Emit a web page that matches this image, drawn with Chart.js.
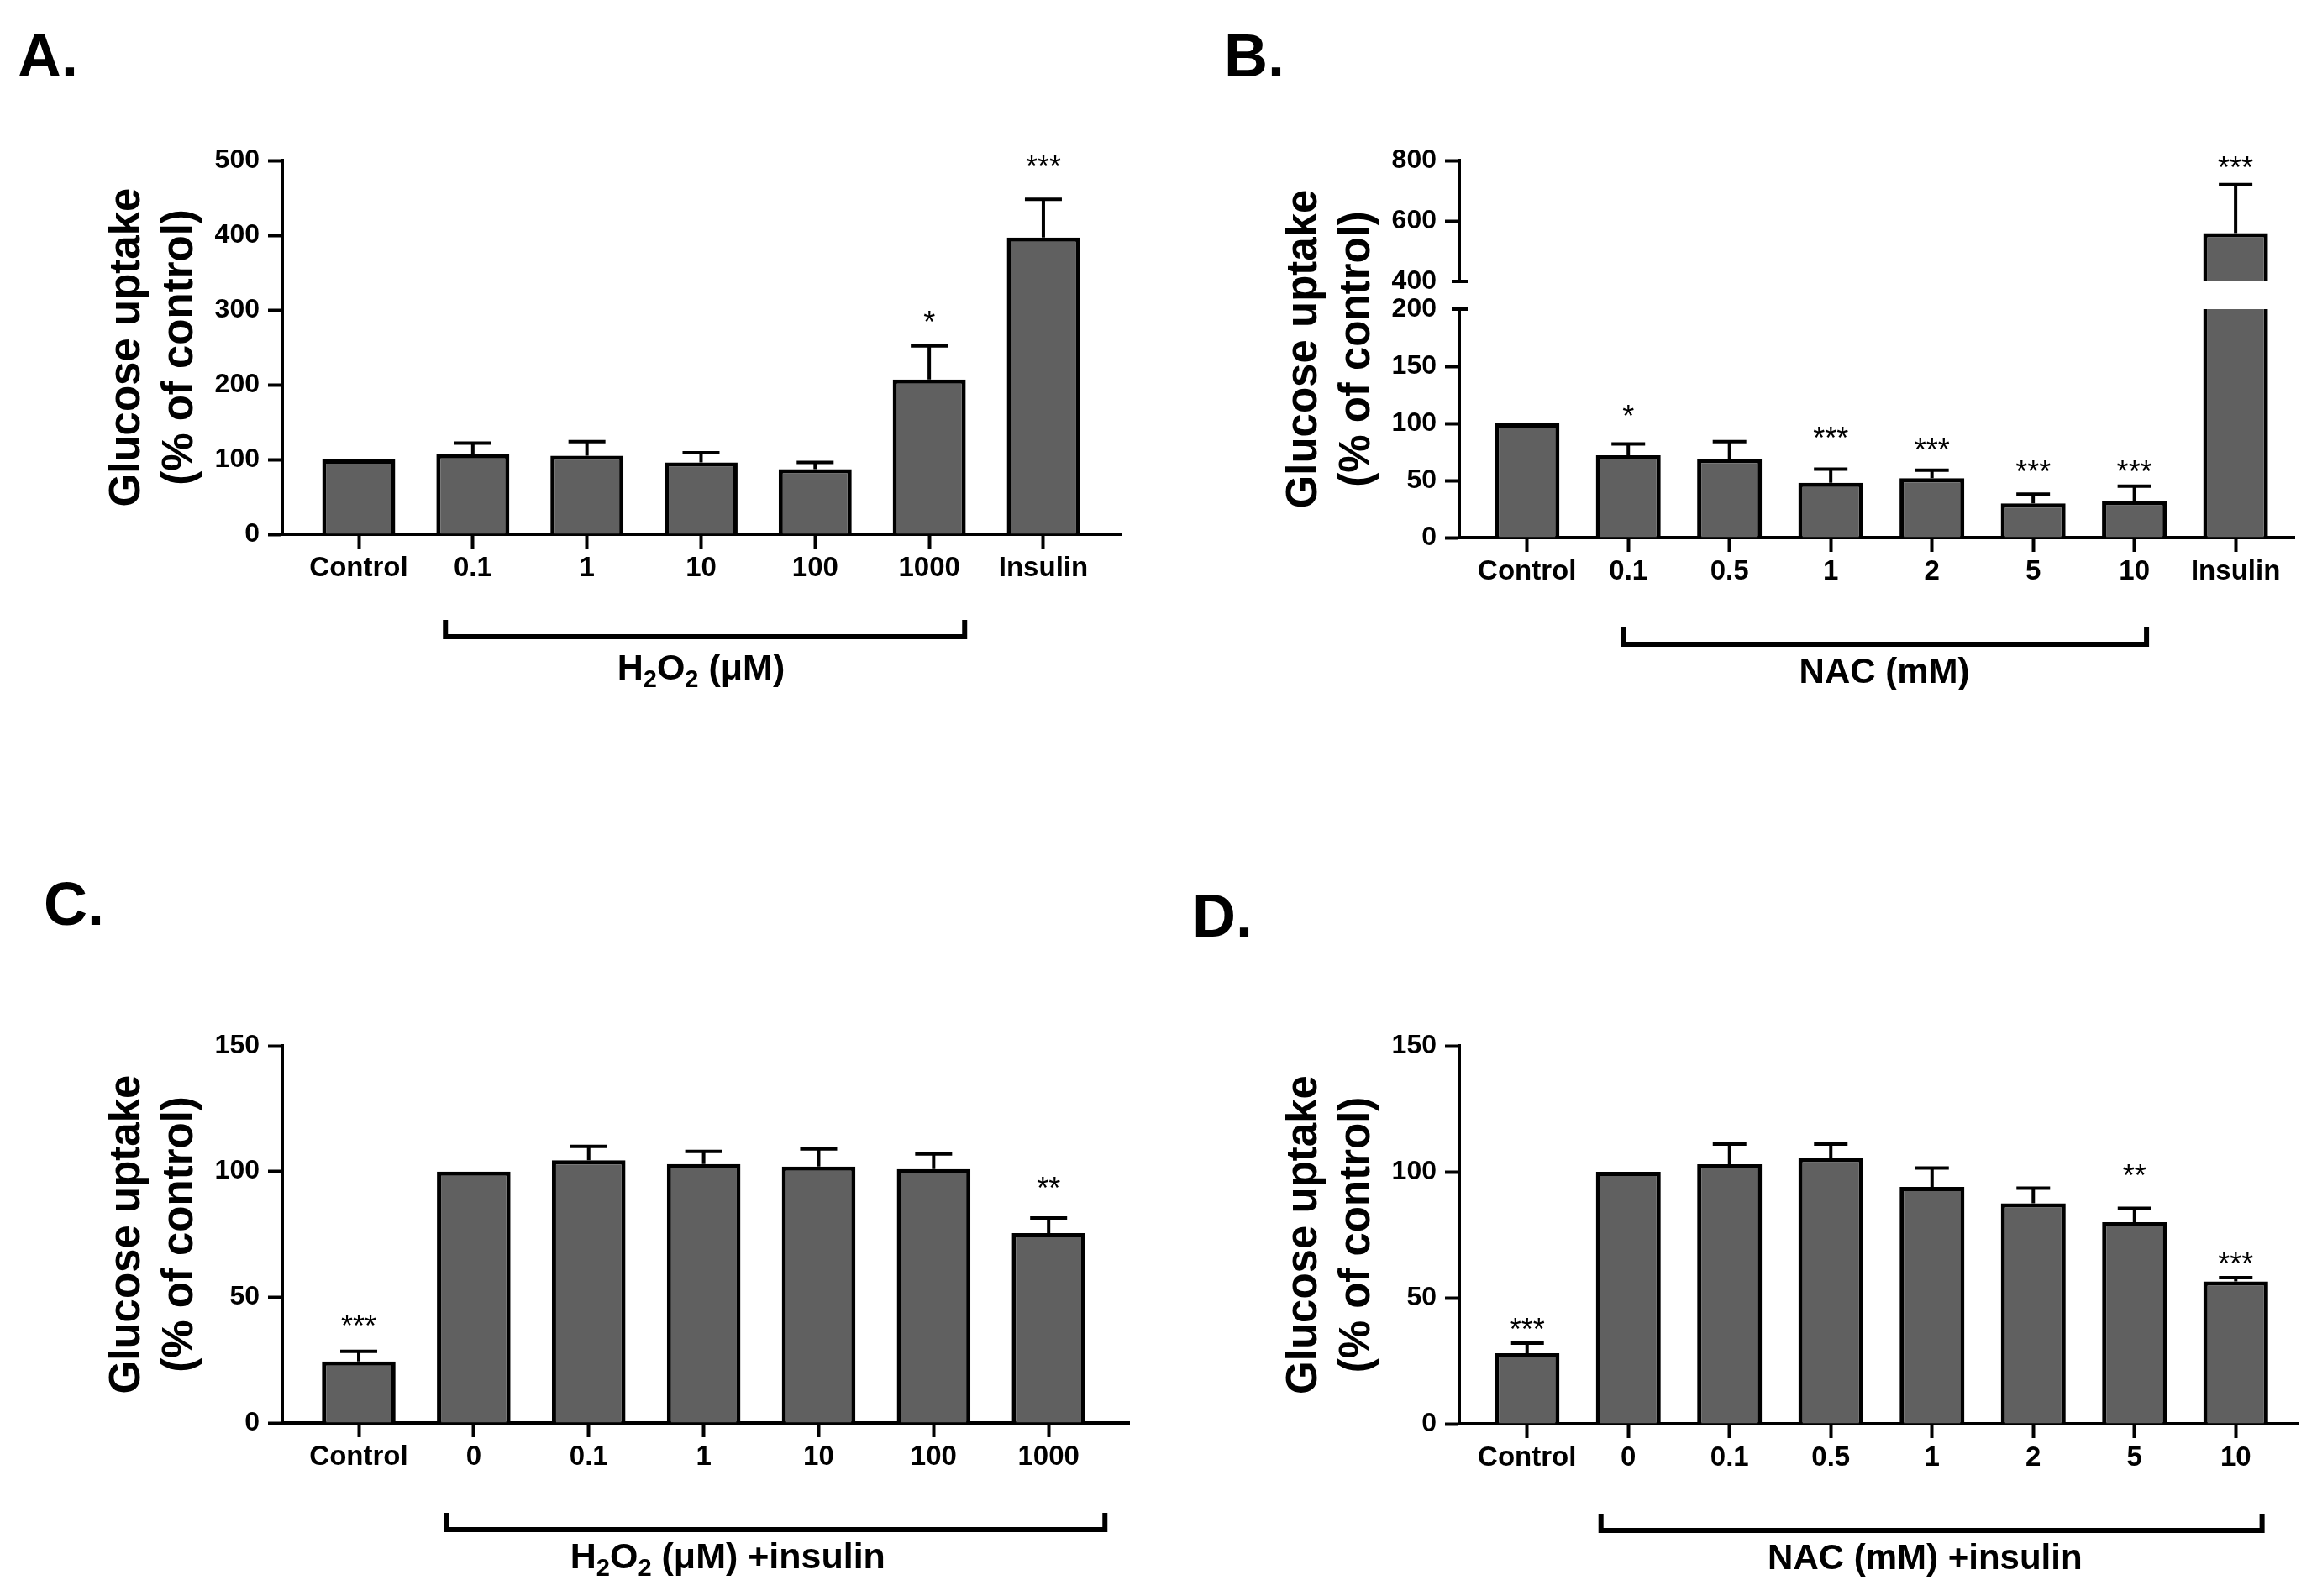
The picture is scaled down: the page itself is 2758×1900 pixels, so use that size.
<!DOCTYPE html>
<html>
<head>
<meta charset="utf-8">
<script src="https://cdn.jsdelivr.net/npm/chart.js@4.4.1/dist/chart.umd.min.js"></script>
<style>
  html, body { margin: 0; padding: 0; background: #fff; }
  body { width: 2758px; height: 1900px; position: relative; overflow: hidden; }
  canvas { position: absolute; }
</style>
</head>
<body>
<canvas id="chartA" width="1379" height="950" style="left:0px;top:0px"></canvas>
<canvas id="chartBTop" width="1379" height="950" style="left:1379px;top:0px"></canvas>
<canvas id="chartB" width="1379" height="950" style="left:1379px;top:0px"></canvas>
<canvas id="chartC" width="1379" height="950" style="left:0px;top:950px"></canvas>
<canvas id="chartD" width="1379" height="950" style="left:1379px;top:950px"></canvas>
<script>
// A: H2O2 alone
const h2o2Groups = ["Control", "0.1", "1", "10", "100", "1000", "Insulin"];
const h2o2Means = [100, 107, 105, 96, 87, 207, 397];
const h2o2Sem = [0, 15, 19, 13, 9, 45, 51];
const h2o2Stars = ["", "", "", "", "", "*", "***"];
const h2o2StarAt = [null, null, null, null, null, 292, 500];

// B: NAC alone
const nacGroups = ["Control", "0.1", "0.5", "1", "2", "5", "10", "Insulin"];
const nacMeans = [100, 72, 69, 48, 52, 30, 32, 560];
const nacSem = [0, 10, 15, 12, 7, 8, 13, 160];
const nacStars = ["", "*", "", "***", "***", "***", "***", "***"];
const nacStarAt = [null, 112, null, 93, 82, 63, 63, 797];

// C: H2O2 + insulin
const h2o2InsGroups = ["Control", "0", "0.1", "1", "10", "100", "1000"];
const h2o2InsMeans = [24.5, 100, 104.5, 103, 102, 101, 75.5];
const h2o2InsSem = [4, 0, 5.5, 5, 7, 6, 6];
const h2o2InsStars = ["***", "", "", "", "", "", "**"];
const h2o2InsStarAt = [41, null, null, null, null, null, 96];

// D: NAC + insulin
const nacInsGroups = ["Control", "0", "0.1", "0.5", "1", "2", "5", "10"];
const nacInsMeans = [28, 100, 103, 105.5, 94, 87.5, 80, 56.5];
const nacInsSem = [4, 0, 8, 5.5, 7.5, 6, 5.5, 1.5];
const nacInsStars = ["***", "", "", "", "", "", "**", "***"];
const nacInsStarAt = [40, null, null, null, null, null, 101, 66];

const yTitle = ["Glucose uptake", "(% of control)"];
const bracketLabels = ["H_2O_2 (\u03bcM)", "NAC (mM)", "H_2O_2 (\u03bcM) +insulin", "NAC (mM) +insulin"];

const FONT = "'Liberation Sans', Arial, Helvetica, sans-serif";
const BAR_FILL = "#606060";

// text with "_2" style subscripts, centred on cx
function drawRich(ctx, text, cx, base, size) {
    const parts = text.split(/(_\d)/).filter(Boolean).map((p) =>
        p[0] === "_" ? { t: p.slice(1), sub: true } : { t: p, sub: false }
    );
    const fontFor = (p) => `bold ${p.sub ? Math.round(size * 0.68) : size}px ${FONT}`;
    let total = 0;
    parts.forEach((p) => {
        ctx.font = fontFor(p);
        p.w = ctx.measureText(p.t).width;
        total += p.w;
    });
    let x = cx - total / 2;
    ctx.textAlign = "left";
    ctx.textBaseline = "alphabetic";
    parts.forEach((p) => {
        ctx.font = fontFor(p);
        ctx.fillText(p.t, x, base + (p.sub ? size * 0.2 : 0));
        x += p.w;
    });
}

const decorPlugin = {
    id: "decor",
    afterDatasetsDraw(chart, args, opts) {
        const { ctx } = chart;
        const xs = chart.scales.x, ys = chart.scales.y;
        ctx.save();
        // error bars (mean + SEM)
        ctx.strokeStyle = "#000";
        ctx.lineWidth = 4;
        opts.means.forEach((m, i) => {
            const e = opts.sem[i];
            if (!e || m < ys.min || m > ys.max) return;
            const px = xs.getPixelForValue(i);
            const y0 = ys.getPixelForValue(m);
            const y1 = ys.getPixelForValue(m + e);
            const half = opts.capWidth / 2;
            ctx.beginPath();
            ctx.moveTo(px, y0);
            ctx.lineTo(px, y1);
            ctx.moveTo(px - half, y1);
            ctx.lineTo(px + half, y1);
            ctx.stroke();
        });
        // significance stars
        ctx.fillStyle = "#000";
        ctx.font = `36px ${FONT}`;
        ctx.textAlign = "center";
        ctx.textBaseline = "alphabetic";
        opts.stars.forEach((s, i) => {
            const v = opts.starAt[i];
            if (!s || v == null || v < ys.min || v > ys.max * 1.02) return;
            ctx.fillText(s, xs.getPixelForValue(i), ys.getPixelForValue(v) + 20);
        });
        ctx.restore();
    },
    afterDraw(chart, args, opts) {
        const { ctx, chartArea: area } = chart;
        const xs = chart.scales.x;
        ctx.save();
        ctx.fillStyle = "#000";
        ctx.strokeStyle = "#000";

        if (opts.breakAt) {
            const yb = opts.breakAt === "top" ? area.top : area.bottom;
            ctx.lineWidth = 4;
            ctx.beginPath();
            ctx.moveTo(area.left - 9, yb);
            ctx.lineTo(area.left + 11, yb);
            ctx.stroke();
        }

        if (opts.title) {
            const cy = opts.titleCY != null ? opts.titleCY : (area.top + area.bottom) / 2;
            ctx.font = `bold 51px ${FONT}`;
            ctx.textAlign = "center";
            ctx.textBaseline = "middle";
            yTitle.forEach((line, k) => {
                ctx.save();
                ctx.translate(area.left - 184 + k * 63, cy);
                ctx.rotate(-Math.PI / 2);
                ctx.fillText(line, 0, 0);
                ctx.restore();
            });
        }

        if (opts.letter) {
            ctx.font = `bold 72px ${FONT}`;
            ctx.textAlign = "left";
            ctx.textBaseline = "alphabetic";
            ctx.fillText(opts.letter, opts.letterX, opts.letterY);
        }

        if (opts.bracket) {
            const x0 = xs.getPixelForValue(opts.bracket[0]);
            const x1 = xs.getPixelForValue(opts.bracket[1]);
            const yb = area.bottom + opts.bracketDy;
            ctx.lineWidth = 6;
            ctx.lineJoin = "miter";
            ctx.beginPath();
            ctx.moveTo(x0, yb - 20);
            ctx.lineTo(x0, yb);
            ctx.lineTo(x1, yb);
            ctx.lineTo(x1, yb - 20);
            ctx.stroke();
            drawRich(ctx, opts.bracketLabel, xs.getPixelForValue(opts.labelAt), area.bottom + 173, opts.labelSize || 41);
        }
        ctx.restore();
    },
};

function buildChart(id, cfg) {
    const canvas = document.getElementById(id);
    const W = canvas.width, H = canvas.height;
    const a = cfg.area; // left, top, right, bottom of plot area in canvas px
    const showX = cfg.showX !== false;
    return new Chart(canvas, {
        type: "bar",
        data: {
            datasets: [{
                data: cfg.means.map((v, i) => ({ x: i, y: v })),
                backgroundColor: BAR_FILL,
                borderColor: "#000",
                borderWidth: 5,
                categoryPercentage: 0.64,
                barPercentage: 1,
                clip: 0,
            }],
        },
        options: {
            responsive: false,
            animation: false,
            devicePixelRatio: 1,
            layout: { padding: { left: 0, top: a[1], right: W - a[2], bottom: showX ? 0 : H - a[3] } },
            plugins: {
                legend: { display: false },
                tooltip: { enabled: false },
                decor: cfg,
            },
            scales: {
                x: {
                    type: "linear",
                    min: cfg.xMin,
                    max: cfg.xMax,
                    offset: false,
                    display: showX,
                    afterBuildTicks: (s) => { s.ticks = cfg.labels.map((_, i) => ({ value: i })); },
                    afterFit: (s) => { if (showX) s.height = H - a[3]; },
                    grid: { offset: false, drawOnChartArea: false, drawTicks: true, tickLength: 17, tickWidth: 4, tickColor: "#000" },
                    border: { display: true, color: "#000", width: 4 },
                    ticks: {
                        autoSkip: false,
                        maxRotation: 0,
                        padding: 4,
                        color: "#000",
                        font: { family: FONT, size: 33, weight: "bold" },
                        callback: (v) => cfg.labels[v] ?? "",
                    },
                },
                y: {
                    min: cfg.yMin,
                    max: cfg.yMax,
                    afterFit: (s) => { s.width = a[0]; },
                    grid: {
                        drawOnChartArea: false,
                        drawTicks: true,
                        tickLength: 17,
                        tickWidth: 4,
                        tickColor: (c) => (c.tick && c.tick.value === cfg.hideTick ? "rgba(0,0,0,0)" : "#000"),
                    },
                    border: { display: true, color: "#000", width: 4 },
                    ticks: {
                        stepSize: cfg.yStep,
                        padding: 10,
                        color: "#000",
                        font: { family: FONT, size: 32, weight: "bold" },
                    },
                },
            },
        },
        plugins: [decorPlugin],
    });
}

buildChart("chartA", {
    labels: h2o2Groups, means: h2o2Means, sem: h2o2Sem, stars: h2o2Stars, starAt: h2o2StarAt,
    area: [336, 191, 1335, 636], xMin: -0.67, xMax: 6.685, yMin: 0, yMax: 500, yStep: 100,
    capWidth: 44, title: true, letter: "A.", letterX: 21, letterY: 91,
    bracket: [0.76, 5.31], bracketDy: 122, bracketLabel: bracketLabels[0], labelAt: 3.0, labelSize: 43,
});

buildChart("chartBTop", {
    labels: nacGroups, means: nacMeans, sem: nacSem, stars: nacStars, starAt: nacStarAt,
    area: [358, 191, 1352, 335], xMin: -0.67, xMax: 7.58, yMin: 400, yMax: 800, yStep: 200,
    showX: false, hideTick: 400, breakAt: "bottom", capWidth: 40,
});

buildChart("chartB", {
    labels: nacGroups, means: nacMeans, sem: nacSem, stars: nacStars, starAt: nacStarAt,
    area: [358, 368, 1352, 640], xMin: -0.67, xMax: 7.58, yMin: 0, yMax: 200, yStep: 50,
    hideTick: 200, breakAt: "top", capWidth: 40, title: true, titleCY: 415.5,
    letter: "B.", letterX: 78, letterY: 91,
    bracket: [0.95, 6.12], bracketDy: 127, bracketLabel: bracketLabels[1], labelAt: 3.53, labelSize: 42,
});

buildChart("chartC", {
    labels: h2o2InsGroups, means: h2o2InsMeans, sem: h2o2InsSem, stars: h2o2InsStars, starAt: h2o2InsStarAt,
    area: [336, 295, 1344, 744], xMin: -0.665, xMax: 6.70, yMin: 0, yMax: 150, yStep: 50,
    capWidth: 44, title: true, letter: "C.", letterX: 52, letterY: 151,
    bracket: [0.76, 6.49], bracketDy: 127, bracketLabel: bracketLabels[2], labelAt: 3.21, labelSize: 43,
});

buildChart("chartD", {
    labels: nacInsGroups, means: nacInsMeans, sem: nacInsSem, stars: nacInsStars, starAt: nacInsStarAt,
    area: [358, 295, 1357, 745], xMin: -0.67, xMax: 7.62, yMin: 0, yMax: 150, yStep: 50,
    capWidth: 40, title: true, letter: "D.", letterX: 40, letterY: 165,
    bracket: [0.73, 7.26], bracketDy: 127, bracketLabel: bracketLabels[3], labelAt: 3.93, labelSize: 42,
});
</script>
</body>
</html>
